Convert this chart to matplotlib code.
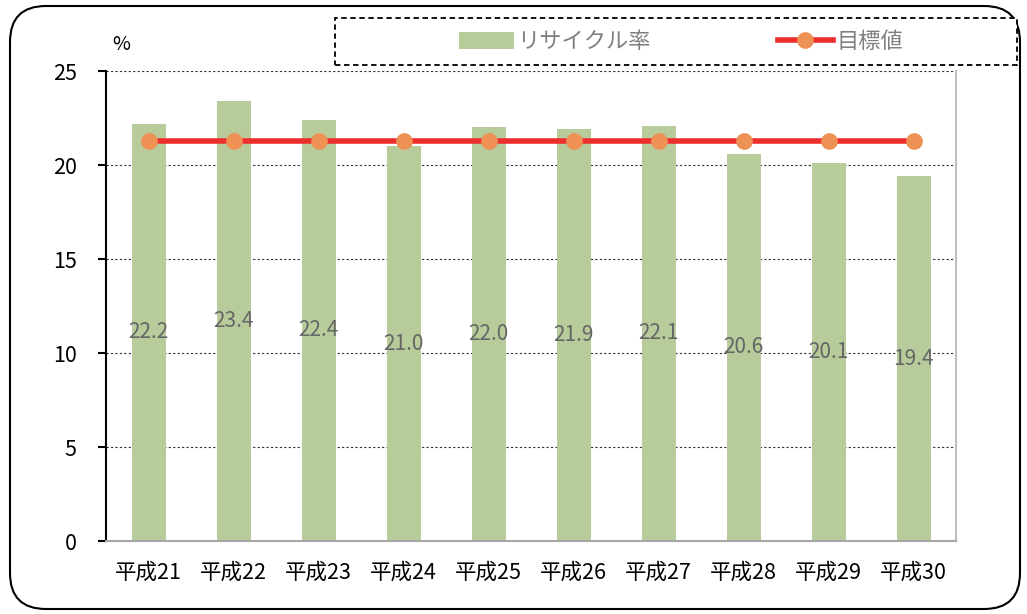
import matplotlib
matplotlib.use("Agg")
import matplotlib.pyplot as plt
from matplotlib.patches import FancyBboxPatch, Rectangle
from matplotlib.lines import Line2D
from matplotlib.patches import Patch
import numpy as np

plt.rcParams['font.family'] = ['Noto Sans CJK JP', 'DejaVu Sans']

categories = ["平成21", "平成22", "平成23", "平成24", "平成25", "平成26", "平成27", "平成28", "平成29", "平成30"]
recycle_rate = [22.2, 23.4, 22.4, 21.0, 22.0, 21.9, 22.1, 20.6, 20.1, 19.4]
target = [21.3] * 10
labels_legend = ["リサイクル率", "目標値"]

W, H = 1027, 614
fig = plt.figure(figsize=(W / 100, H / 100), dpi=100)
ax = fig.add_axes([106 / W, 1 - 541 / H, (956 - 106) / W, (541 - 71) / H])

x = np.arange(len(categories))
bar_color = "#b7cc9a"
ax.bar(x, recycle_rate, width=0.4, color=bar_color, zorder=2)
ax.plot(x, target, color="#ee2d2d", linewidth=4, marker="o", markersize=11,
        markerfacecolor="#ee9155", markeredgecolor="#ee9155", zorder=3)

for xi, v in zip(x, recycle_rate):
    ax.text(xi, v / 2, f"{v:.1f}", ha="center", va="center", fontsize=15,
            color="#666666", zorder=4)

ax.set_xlim(-0.5, len(categories) - 0.5)
ax.set_ylim(0, 25)
ax.set_yticks([0, 5, 10, 15, 20, 25])
ax.set_xticks(x)
ax.set_xticklabels(categories)
ax.tick_params(axis="x", length=0, pad=15, labelsize=15.5, colors="black")
ax.tick_params(axis="y", direction="out", length=6, width=1.5, pad=15, labelsize=15.5)
for lbl in ax.get_yticklabels():
    lbl.set_horizontalalignment("right")

ax.grid(axis="y", linestyle=(0, (2, 2)), color="#333333", linewidth=0.8, zorder=1)
ax.set_axisbelow(True)
ax.spines["left"].set_color("black")
ax.spines["left"].set_linewidth(1.5)
ax.spines["bottom"].set_color("#a6a6a6")
ax.spines["bottom"].set_linewidth(1.5)
ax.spines["top"].set_visible(False)
ax.spines["right"].set_color("#bfbfbf")
ax.spines["right"].set_linewidth(1.5)

fig.text(121 / W, 1 - 45 / H, "%", ha="center", va="center", fontsize=14)

# outer rounded frame
frame = FancyBboxPatch((10 / W, 5 / H), (1020 - 10) / W, (608 - 5) / H,
                       boxstyle="round,pad=0,rounding_size=0.035",
                       transform=fig.transFigure, fill=False,
                       edgecolor="black", linewidth=1.5, mutation_aspect=W / H)
fig.add_artist(frame)

# legend dashed box
lx0, ly0, lx1, ly1 = 335, 18, 1017, 65
fig.add_artist(Rectangle((lx0 / W, 1 - ly1 / H), (lx1 - lx0) / W, (ly1 - ly0) / H,
                         transform=fig.transFigure, facecolor="white",
                         edgecolor="black", linewidth=1.3, linestyle=(0, (3, 2)), zorder=5))
handles = [Patch(facecolor=bar_color, edgecolor="none"),
           Line2D([0], [0], color="#ee2d2d", linewidth=4, marker="o", markersize=11,
                  markerfacecolor="#ee9155", markeredgecolor="#ee9155")]
leg = fig.legend(handles, labels_legend, loc="center", ncol=2,
                 bbox_to_anchor=(((lx0 + lx1) / 2 + 5) / W, 1 - (ly0 + ly1) / 2 / H),
                 frameon=False, fontsize=16, labelcolor="#808080",
                 handlelength=2.5, handleheight=0.8, handletextpad=0.15, columnspacing=5.7)
leg.set_zorder(6)

fig.savefig("out.png", dpi=100)
